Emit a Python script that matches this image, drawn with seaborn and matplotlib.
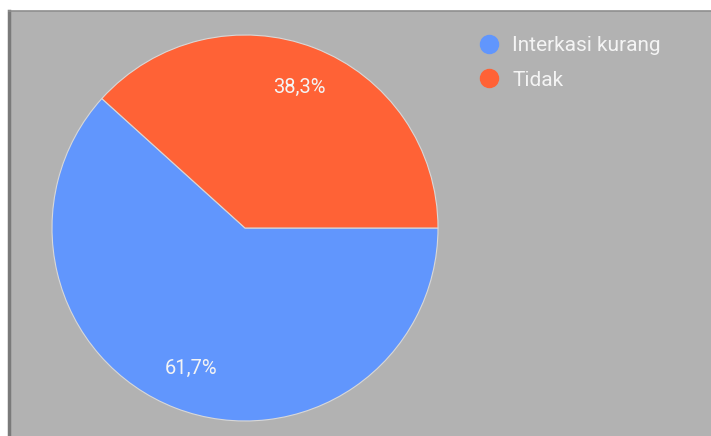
import matplotlib
matplotlib.use('Agg')
import matplotlib.pyplot as plt
from matplotlib.lines import Line2D
import seaborn as sns

# data
categories = ['Interkasi kurang', 'Tidak']
shares = [61.7, 38.3]
colors = ['#6196fd', '#ff6236']

BG = '#b2b2b2'
TEXT = '#f4f4f4'

sns.set_theme(style='white')
plt.rcParams['font.family'] = ['Roboto', 'DejaVu Sans']

W, H = 711, 436
fig = plt.figure(figsize=(W / 100, H / 100), dpi=100, facecolor='white')
# gray panel, data units = pixels (y up)
x0, top = 9, 11
ax = fig.add_axes([x0 / W, 0, (W - x0) / W, (H - top) / H])
ax.set_facecolor(BG)
ax.set_xlim(x0, W)
ax.set_ylim(0, H - top)
ax.set_aspect('equal')
ax.set_xticks([])
ax.set_yticks([])
for side in ['right', 'bottom']:
    ax.spines[side].set_visible(False)
ax.spines['left'].set_color('#7a7a7a')
ax.spines['left'].set_linewidth(2.5)
ax.spines['top'].set_color('#8e8e8e')
ax.spines['top'].set_linewidth(1.2)

wedges, _, autotexts = ax.pie(
    shares, colors=colors, startangle=0, counterclock=False,
    center=(245, H - 228), radius=193, frame=True,
    autopct=lambda p: f'{p:.1f}%'.replace('.', ','), pctdistance=0.78,
    wedgeprops=dict(edgecolor='#d8d8d8', linewidth=0.8),
    textprops=dict(color=TEXT, fontsize=14.5))
ax.set_xlim(x0, W)
ax.set_ylim(0, H - top)
ax.set_xticks([])
ax.set_yticks([])

handles = [Line2D([], [], linestyle='none', marker='o', markersize=13,
                  markerfacecolor=c, markeredgecolor=c) for c in colors]
leg = ax.legend(handles, categories, loc='upper left',
                bbox_to_anchor=(479 / W, 1 - 36 / H), bbox_transform=fig.transFigure,
                frameon=False, fontsize=15, labelcolor=TEXT,
                handlelength=1.0, handletextpad=0.6, labelspacing=0.75,
                borderaxespad=0, borderpad=0)

fig.savefig('out.png', dpi=100, facecolor='white')
